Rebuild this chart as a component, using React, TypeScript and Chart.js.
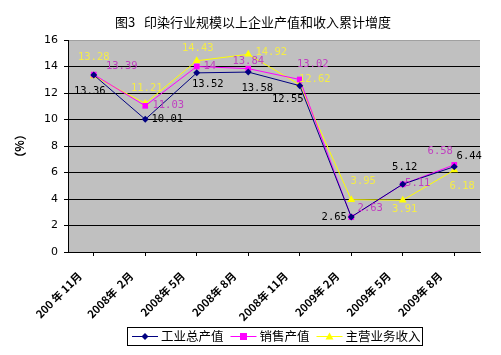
import React, { useEffect, useRef } from "react";
import { Chart, registerables } from "chart.js";

Chart.register(...registerables);

const categories = [
  "200 年 11月",
  "2008年  2月",
  "2008年 5月",
  "2008年 8月",
  "2008年 11月",
  "2009年 2月",
  "2009年 5月",
  "2009年 8月",
];
const grossOutput = [13.36, 10.01, 13.52, 13.58, 12.55, 2.65, 5.12, 6.44];
const salesOutput = [13.39, 11.03, 14, 13.84, 13.02, 2.63, 5.11, 6.58];
const mainRevenue = [13.28, 11.21, 14.43, 14.92, 12.62, 3.95, 3.91, 6.18];
const seriesNames = ["工业总产值", "销售产值", "主营业务收入"];
const yTicks = [0, 2, 4, 6, 8, 10, 12, 14, 16];

const titleText = "图3   印染行业规模以上企业产值和收入累计增度";
const yTitle = "（%）";

// label offsets (styling, px relative to each point)
const labelOffsets: number[][][] = [
  [[-4, 16], [22, 0], [11, 11], [9, 16], [-12, 14], [-17, 0], [2, -17], [15, -10]],
  [[28, -8], [23, -1], [13, 0], [0, -7], [13, -15], [19, -9], [15, -1], [-14, -14]],
  [[0, -19], [1.5, -15], [1, -13], [23, -2], [15, -6], [12, -18], [2, 9], [8, 16]],
];
const lineColors = ["#000080", "#ff00ff", "#ffff00"];
const labelColors = ["#000000", "#c040c0", "#f4ec48"];
const pointStyles = ["rectRot", "rect", "triangle"];
const pointRadii = [3.5, 4, 4.5];

const decorPlugin = {
  id: "decor",
  beforeDraw(chart: any) {
    const { ctx, chartArea } = chart;
    ctx.save();
    ctx.fillStyle = "#ffffff";
    ctx.fillRect(0, 0, chart.width, chart.height);
    ctx.fillStyle = "#c0c0c0";
    ctx.fillRect(chartArea.left, chartArea.top, chartArea.right - chartArea.left, chartArea.bottom - chartArea.top);
    ctx.restore();
  },
  afterDraw(chart: any) {
    const { ctx, chartArea } = chart;
    const xs = chart.scales.x;
    ctx.save();
    // x labels
    ctx.fillStyle = "#000";
    ctx.font = 'bold 11px "Noto Sans CJK SC"';
    ctx.textAlign = "right";
    ctx.textBaseline = "middle";
    chart.data.labels.forEach((lab: string, i: number) => {
      const px = xs.getPixelForValue(i);
      ctx.save();
      ctx.translate(px - 14, chartArea.bottom + 22);
      ctx.rotate(-Math.PI / 4);
      ctx.fillText(lab, 0, 0);
      ctx.restore();
    });
    // title
    ctx.font = '13px "Noto Sans CJK SC"';
    ctx.textAlign = "center";
    ctx.fillText(titleText, 253, 22);
    // y title
    ctx.save();
    ctx.translate(20, 146);
    ctx.rotate(Math.PI / 2);
    ctx.font = 'bold 12px "Noto Sans CJK SC"';
    ctx.fillText(yTitle, 0, 0);
    ctx.restore();
    // legend
    const lx = 127, ly = 327, lw = 295, lh = 18;
    ctx.fillStyle = "#ffffff";
    ctx.fillRect(lx, ly, lw, lh);
    ctx.strokeStyle = "#000";
    ctx.lineWidth = 1;
    ctx.strokeRect(lx + 0.5, ly + 0.5, lw, lh);
    ctx.font = '12.5px "Noto Sans CJK SC"';
    ctx.textAlign = "left";
    let x = lx + 5;
    const cy = ly + lh / 2 + 0.5;
    seriesNames.forEach((name, i) => {
      ctx.strokeStyle = lineColors[i];
      ctx.beginPath();
      ctx.moveTo(x, cy);
      ctx.lineTo(x + 26, cy);
      ctx.stroke();
      ctx.fillStyle = lineColors[i];
      const mx = x + 13;
      ctx.beginPath();
      if (i === 0) {
        ctx.moveTo(mx, cy - 3.5); ctx.lineTo(mx + 3.5, cy); ctx.lineTo(mx, cy + 3.5); ctx.lineTo(mx - 3.5, cy);
      } else if (i === 1) {
        ctx.rect(mx - 3.5, cy - 3.5, 7, 7);
      } else {
        ctx.moveTo(mx, cy - 4); ctx.lineTo(mx + 4, cy + 3); ctx.lineTo(mx - 4, cy + 3);
      }
      ctx.closePath();
      ctx.fill();
      ctx.fillStyle = "#000";
      ctx.fillText(name, x + 29, cy);
      x += 29 + ctx.measureText(name).width + 7;
    });
    ctx.restore();
  },
  afterDatasetsDraw(chart: any) {
    const { ctx } = chart;
    ctx.save();
    ctx.font = '10.5px "DejaVu Sans Mono"';
    ctx.textAlign = "center";
    ctx.textBaseline = "middle";
    chart.data.datasets.forEach((ds: any, di: number) => {
      const meta = chart.getDatasetMeta(di);
      meta.data.forEach((pt: any, i: number) => {
        const off = labelOffsets[di][i];
        ctx.fillStyle = labelColors[di];
        ctx.fillText(String(ds.data[i]), pt.x + off[0], pt.y + off[1]);
      });
    });
    ctx.restore();
  },
};

export default function App() {
  const ref = useRef<HTMLCanvasElement>(null);
  useEffect(() => {
    const series = [grossOutput, salesOutput, mainRevenue];
    const chart = new Chart(ref.current!, {
      type: "line",
      data: {
        labels: categories,
        datasets: series.map((d, i) => ({
          label: seriesNames[i],
          data: d,
          borderColor: lineColors[i],
          backgroundColor: lineColors[i],
          borderWidth: 1,
          pointStyle: pointStyles[i] as any,
          pointRadius: pointRadii[i],
          pointBorderWidth: 0,
          tension: 0,
          fill: false,
        })),
      },
      options: {
        animation: false,
        responsive: false,
        devicePixelRatio: 1,
        layout: { padding: { top: 40, right: 21, left: 0, bottom: 0 } },
        plugins: { legend: { display: false }, tooltip: { enabled: false }, title: { display: false } },
        scales: {
          x: {
            offset: true,
            grid: { drawOnChartArea: false, drawTicks: true, tickLength: 4, color: "#000" },
            border: { display: true, color: "#000", width: 1 },
            ticks: { display: false, autoSkip: false },
            afterFit: (s: any) => { s.height = 103; },
          },
          y: {
            min: 0,
            max: 16,
            afterBuildTicks: (s: any) => { s.ticks = yTicks.map((v) => ({ value: v })); },
            grid: {
              color: (c: any) => (c.tick && c.tick.value === 16 ? "#a0a0a0" : "#000"),
              tickColor: "#000",
              tickLength: 4,
              lineWidth: 1,
            },
            border: { display: true, color: "#000", width: 1 },
            ticks: {
              color: "#000",
              font: { family: '"DejaVu Sans"', size: 11 },
              padding: 6,
            },
            afterFit: (s: any) => { s.width = 68; },
          },
        },
      },
      plugins: [decorPlugin],
    });
    return () => chart.destroy();
  }, []);
  return (
    <div style={{ position: "fixed", left: 0, top: 0, width: 501, height: 355, background: "#fff" }}>
      <canvas ref={ref} width={501} height={355} style={{ width: 501, height: 355 }} />
    </div>
  );
}
